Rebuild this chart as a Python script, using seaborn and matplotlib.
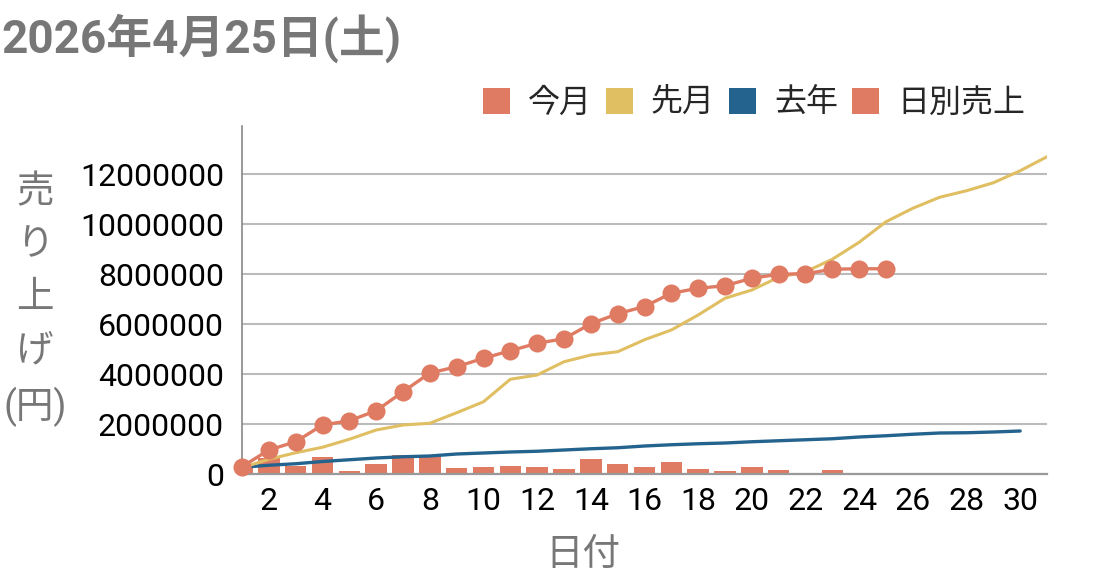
import matplotlib
matplotlib.use("Agg")
import matplotlib.pyplot as plt
import seaborn as sns
from matplotlib.patches import Patch

# --- data ---
days_this = list(range(1, 26))
cum_this = [290000, 960000, 1290000, 1960000, 2130000, 2530000, 3290000, 4040000,
            4290000, 4630000, 4930000, 5230000, 5410000, 6010000, 6410000, 6700000,
            7230000, 7430000, 7530000, 7830000, 7990000, 8010000, 8190000, 8210000,
            8210000]
daily_this = [290000, 630000, 330000, 680000, 130000, 390000, 750000, 710000,
              250000, 290000, 310000, 280000, 200000, 590000, 390000, 290000,
              480000, 210000, 120000, 280000, 160000, 40000, 160000, 20000, 0]

days_last_month = list(range(1, 32))
cum_last_month = [250000, 590000, 850000, 1070000, 1390000, 1760000, 1960000, 2030000,
                  2450000, 2890000, 3790000, 3960000, 4490000, 4760000, 4890000, 5370000,
                  5760000, 6360000, 7030000, 7360000, 7870000, 8090000, 8590000, 9270000,
                  10090000, 10630000, 11070000, 11330000, 11650000, 12130000, 12690000]

days_last_year = list(range(1, 31))
cum_last_year = [270000, 350000, 410000, 500000, 570000, 640000, 690000, 720000,
                 800000, 840000, 880000, 910000, 960000, 1010000, 1050000, 1120000,
                 1170000, 1210000, 1240000, 1290000, 1330000, 1370000, 1410000, 1480000,
                 1530000, 1590000, 1640000, 1650000, 1680000, 1720000]

series_labels = ['今月', '先月', '去年', '日別売上']
title_text = '2026年4月25日(土)'
y_ticks = list(range(0, 12000001, 2000000))
x_ticks = list(range(2, 31, 2))

SALMON = '#e07b63'
YELLOW = '#e0be62'
BLUE = '#23638e'
GREY_TXT = '#777777'

sns.set_theme(style='white')
plt.rcParams['font.family'] = ['Roboto', 'Noto Sans CJK JP', 'DejaVu Sans']

fig = plt.figure(figsize=(10.98, 5.81), dpi=100)
ax = fig.add_axes([242 / 1098, 1 - 474 / 581, 805 / 1098, 348 / 581])

# daily bars at the back
sns.barplot(x=days_this, y=daily_this, native_scale=True, width=0.8,
            color=SALMON, saturation=1, linewidth=0, ax=ax, zorder=1)

# cumulative lines
sns.lineplot(x=days_last_year, y=cum_last_year, color=BLUE, linewidth=2.4,
             ax=ax, zorder=2)
sns.lineplot(x=days_last_month, y=cum_last_month, color=YELLOW, linewidth=2.2,
             ax=ax, zorder=3)
sns.lineplot(x=days_this, y=cum_this, color=SALMON, linewidth=2.4, marker='o',
             markersize=13, markeredgewidth=0, ax=ax, zorder=4, clip_on=False)

ax.set_xlim(1, 31)
ax.set_ylim(0, 13.92e6)
ax.set_xticks(x_ticks)
ax.set_xticklabels([str(d) for d in x_ticks])
ax.set_yticks(y_ticks)
ax.set_yticklabels([str(v) for v in y_ticks])
ax.tick_params(axis='both', length=0, labelsize=23, colors='black')
ax.tick_params(axis='y', pad=13)
ax.tick_params(axis='x', pad=9)
ax.set_xlabel('')
ax.set_ylabel('')

ax.yaxis.grid(True, color='#bbbbbb', linewidth=1.5)
ax.xaxis.grid(False)
ax.set_axisbelow(True)
for side in ['top', 'right']:
    ax.spines[side].set_visible(False)
ax.spines['left'].set_color('#888888')
ax.spines['left'].set_linewidth(1.2)
ax.spines['bottom'].set_color('#999999')
ax.spines['bottom'].set_linewidth(1.6)

# title, axis titles
fig.text(0.001, 1 - 38 / 581, title_text, fontsize=33, fontweight='bold',
         color=GREY_TXT, va='center', ha='left')
fig.text(35 / 1098, 1 - 300 / 581, '売\nり\n上\nげ\n(円)', fontsize=27,
         color=GREY_TXT, va='center', ha='center', multialignment='center',
         linespacing=1.55)
fig.text(583 / 1098, 1 - 555 / 581, '日付', fontsize=27, color=GREY_TXT,
         va='center', ha='center')

# legend with square swatches
handles = [Patch(facecolor=c, edgecolor='none') for c in [SALMON, YELLOW, BLUE, SALMON]]
fig.legend(handles, series_labels, loc='center right',
           bbox_to_anchor=(1025 / 1098, 1 - 103 / 581), ncol=4, frameon=False,
           fontsize=23, handlelength=0.84, handleheight=0.84, handletextpad=0.56,
           columnspacing=0.45, borderaxespad=0, borderpad=0)

fig.savefig('out.png', dpi=100)
